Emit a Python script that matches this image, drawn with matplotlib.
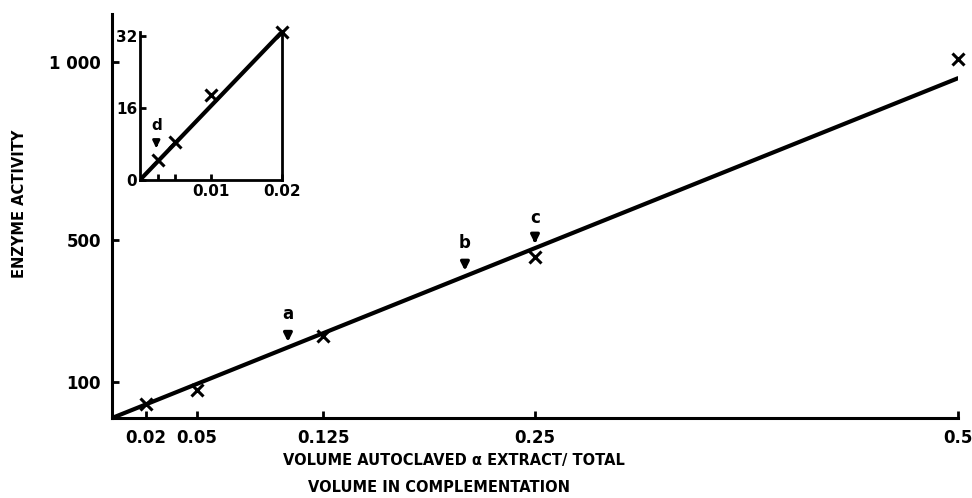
import matplotlib
matplotlib.use('Agg')
import matplotlib.pyplot as plt

# main plot data
vol = [0.02, 0.05, 0.125, 0.25, 0.5]
activity = [40, 78, 230, 452, 1010]
xticks = [0.02, 0.05, 0.125, 0.25, 0.5]
xticklabels = ['0.02', '0.05', '0.125', '0.25', '0.5']
yticks = [100, 500, 1000]
yticklabels = ['100', '500', '1 000']
fit_x = [0, 0.5]
fit_y = [0, 955]

# arrows (label, x, tip, text)
arrow_labels = ['a', 'b', 'c']
arrow_x = [0.104, 0.2086, 0.25]
arrow_tip = [214, 414, 490]
arrow_text = [292, 492, 562]

# inset data
in_vol = [0.0025, 0.005, 0.01, 0.02]
in_act = [4.4, 8.4, 19, 33]
in_fit_x = [0, 0.02]
in_fit_y = [0, 33]
in_xticks = [0.0025, 0.005, 0.01, 0.02]
in_xticklabels = ['', '', '0.01', '0.02']
in_yticks = [0, 16, 32]

plt.rcParams['font.family'] = 'DejaVu Sans'
plt.rcParams['font.weight'] = 'bold'

fig = plt.figure(figsize=(9.72, 4.98), dpi=100)
ax = fig.add_axes([0.1152, 0.1606, 0.8704, 0.811])
ax.plot(fit_x, fit_y, color='k', lw=3, solid_capstyle='round')
ax.plot(vol, activity, 'x', color='k', ms=9, mew=2.2, clip_on=False)
ax.set_xlim(0, 0.5)
ax.set_ylim(0, 1135)
ax.spines['top'].set_visible(False)
ax.spines['right'].set_visible(False)
ax.spines['left'].set_linewidth(2.2)
ax.spines['bottom'].set_linewidth(2.2)
ax.set_xticks(xticks)
ax.set_xticklabels(xticklabels, fontsize=12, fontweight='bold')
ax.set_yticks(yticks)
ax.set_yticklabels(yticklabels, fontsize=12, fontweight='bold')
ax.tick_params(direction='in', length=5, width=2, pad=8)
ax.set_ylabel('ENZYME ACTIVITY', fontsize=10.5, fontweight='bold')
ax.yaxis.set_label_coords(-0.1, 0.53)

for lab, x, tip, txt in zip(arrow_labels, arrow_x, arrow_tip, arrow_text):
    ax.annotate(lab, xy=(x, tip), xytext=(x, txt), ha='center', va='center',
                fontsize=12, fontweight='bold',
                arrowprops=dict(arrowstyle='-|>', color='k', lw=2.4,
                                shrinkA=6, shrinkB=0, mutation_scale=12))

fig.text(0.291, 0.075, 'VOLUME AUTOCLAVED \u03b1 EXTRACT/ TOTAL', fontsize=10.5,
         fontweight='bold', va='center')
fig.text(0.317, 0.022, 'VOLUME IN COMPLEMENTATION', fontsize=10.5,
         fontweight='bold', va='center')

# inset
ins = fig.add_axes([0.144, 0.6386, 0.146, 0.2972])
ins.plot(in_fit_x, in_fit_y, color='k', lw=3)
ins.plot(in_vol, in_act, 'x', color='k', ms=9, mew=2.2, clip_on=False)
ins.set_xlim(0, 0.02)
ins.set_ylim(0, 33)
ins.spines['top'].set_visible(False)
for s in ['left', 'bottom', 'right']:
    ins.spines[s].set_linewidth(2)
ins.set_xticks(in_xticks)
ins.set_xticklabels(in_xticklabels, fontsize=11, fontweight='bold')
ins.set_yticks(in_yticks)
ins.set_yticklabels([str(v) for v in in_yticks], fontsize=11, fontweight='bold')
ins.tick_params(direction='in', length=4, width=2, pad=3)
ins.tick_params(axis='y', pad=2)
ins.annotate('d', xy=(0.0023, 7.1), xytext=(0.0023, 12.2), ha='center', va='center',
             fontsize=11, fontweight='bold',
             arrowprops=dict(arrowstyle='-|>', color='k', lw=2,
                             shrinkA=5, shrinkB=0, mutation_scale=10))

fig.savefig('out.png', dpi=100)
